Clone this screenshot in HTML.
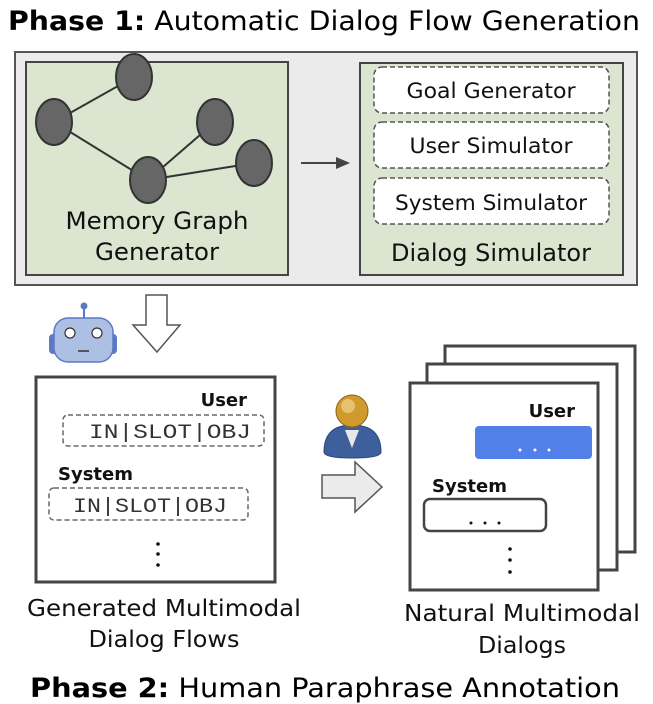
<!DOCTYPE html>
<html><head><meta charset="utf-8"><style>body{margin:0;background:#fff}svg{display:block}</style></head>
<body>
<svg width="653" height="704" viewBox="0 0 653 704" xmlns="http://www.w3.org/2000/svg" font-family="DejaVu Sans, Liberation Sans, sans-serif">
<text x="8" y="30" font-size="27" textLength="632" lengthAdjust="spacingAndGlyphs"><tspan font-weight="bold">Phase 1:</tspan> Automatic Dialog Flow Generation</text>
<rect x="15" y="52" width="622" height="233" fill="#ebebeb" stroke="#555" stroke-width="2"/>
<rect x="26" y="62" width="262" height="213" fill="#dbe5cf" stroke="#444" stroke-width="2"/>
<rect x="360" y="63" width="263" height="212" fill="#dbe5cf" stroke="#444" stroke-width="2"/>
<g stroke="#333" stroke-width="2">
<line x1="54" y1="122" x2="134" y2="77"/><line x1="54" y1="122" x2="148" y2="180"/>
<line x1="148" y1="180" x2="215" y2="122"/><line x1="148" y1="180" x2="254" y2="163"/>
<g fill="#666"><ellipse cx="134" cy="77" rx="18" ry="23"/><ellipse cx="54" cy="122" rx="18" ry="23"/><ellipse cx="215" cy="122" rx="18" ry="23"/><ellipse cx="148" cy="180" rx="18" ry="23"/><ellipse cx="254" cy="163" rx="18" ry="23"/></g>
</g>
<g font-size="24" text-anchor="middle" fill="#111">
<text x="157" y="229" textLength="183" lengthAdjust="spacingAndGlyphs">Memory Graph</text>
<text x="157" y="260" textLength="124" lengthAdjust="spacingAndGlyphs">Generator</text>
<text x="491" y="261" textLength="200" lengthAdjust="spacingAndGlyphs">Dialog Simulator</text></g>
<line x1="301" y1="163" x2="338" y2="163" stroke="#444" stroke-width="2"/><polygon points="336,157 350,163 336,169" fill="#444"/>
<g fill="#fff" stroke="#555" stroke-width="1.5" stroke-dasharray="5,3">
<rect x="374" y="67" width="235" height="46" rx="8"/><rect x="374" y="122" width="235" height="46" rx="8"/><rect x="374" y="178" width="235" height="46" rx="8"/></g>
<g font-size="21" text-anchor="middle" fill="#111">
<text x="491" y="98" textLength="169" lengthAdjust="spacingAndGlyphs">Goal Generator</text>
<text x="491" y="153" textLength="163" lengthAdjust="spacingAndGlyphs">User Simulator</text>
<text x="491" y="210" textLength="192" lengthAdjust="spacingAndGlyphs">System Simulator</text></g>
<polygon points="146,295 167,295 167,325 180,325 157,352 133,325 146,325" fill="#fff" stroke="#555" stroke-width="1.5"/>
<line x1="84" y1="307" x2="84" y2="318" stroke="#5b79c4" stroke-width="2"/><circle cx="84" cy="306" r="3.5" fill="#5b79c4"/>
<rect x="49" y="334" width="8" height="20" rx="4" fill="#5b79c4"/><rect x="109" y="334" width="8" height="20" rx="4" fill="#5b79c4"/>
<rect x="54" y="318" width="59" height="44" rx="14" fill="#aebfe4" stroke="#5b79c4" stroke-width="1.5"/>
<circle cx="70" cy="333" r="5" fill="#fff" stroke="#333" stroke-width="1.2"/><circle cx="97" cy="333" r="5" fill="#fff" stroke="#333" stroke-width="1.2"/>
<line x1="78" y1="351" x2="89" y2="351" stroke="#333" stroke-width="1.5"/>
<rect x="36" y="377" width="239" height="205" fill="#fff" stroke="#444" stroke-width="3"/>
<g font-weight="bold" font-size="18" fill="#111"><text x="247" y="406" text-anchor="end">User</text><text x="58" y="480">System</text></g>
<g fill="none" stroke="#666" stroke-width="1.5" stroke-dasharray="5,3"><rect x="63" y="415" width="201" height="31" rx="5"/><rect x="49" y="488" width="199" height="32" rx="5"/></g>
<g font-family="Liberation Mono, monospace" font-size="20" fill="#333" text-anchor="middle">
<text x="170" y="438" textLength="162" lengthAdjust="spacingAndGlyphs">IN|SLOT|OBJ</text>
<text x="150" y="512" textLength="154" lengthAdjust="spacingAndGlyphs">IN|SLOT|OBJ</text></g>
<g fill="#111"><circle cx="158" cy="544" r="1.8"/><circle cx="158" cy="554" r="1.8"/><circle cx="158" cy="565" r="1.8"/></g>
<g font-size="23" text-anchor="middle" fill="#111">
<text x="164" y="616" textLength="274" lengthAdjust="spacingAndGlyphs">Generated Multimodal</text>
<text x="164" y="647" textLength="151" lengthAdjust="spacingAndGlyphs">Dialog Flows</text>
<text x="522" y="621" textLength="236" lengthAdjust="spacingAndGlyphs">Natural Multimodal</text>
<text x="522" y="653" textLength="88" lengthAdjust="spacingAndGlyphs">Dialogs</text></g>
<rect x="445" y="346" width="190" height="206" fill="#fff" stroke="#444" stroke-width="3"/>
<rect x="427" y="364" width="190" height="206" fill="#fff" stroke="#444" stroke-width="3"/>
<rect x="410" y="383" width="188" height="207" fill="#fff" stroke="#444" stroke-width="3"/>
<g font-weight="bold" font-size="18" fill="#111"><text x="575" y="417" text-anchor="end">User</text><text x="432" y="492">System</text></g>
<rect x="475" y="426" width="117" height="33" rx="4" fill="#5280e9"/>
<g fill="#fff"><circle cx="520" cy="450" r="1.5"/><circle cx="535" cy="450" r="1.5"/><circle cx="549" cy="450" r="1.5"/></g>
<rect x="424" y="499" width="122" height="32" rx="6" fill="#fff" stroke="#444" stroke-width="2.5"/>
<g fill="#111"><circle cx="471" cy="523" r="1.5"/><circle cx="485" cy="523" r="1.5"/><circle cx="499" cy="523" r="1.5"/>
<circle cx="510" cy="549" r="1.8"/><circle cx="510" cy="560" r="1.8"/><circle cx="510" cy="572" r="1.8"/></g>
<path d="M324,452 Q324,425 352,425 Q381,425 381,452 Q381,458 352,458 Q324,458 324,452Z" fill="#3d5f9c" stroke="#2b4677"/>
<polygon points="345,430 352,448 359,430" fill="#e8e8e8"/>
<circle cx="352" cy="411" r="16" fill="#d09a2c" stroke="#8a6318"/>
<circle cx="348" cy="406" r="7" fill="#e8c071"/>
<polygon points="322,475 355,475 355,462 382,487 355,512 355,498 322,498" fill="#ebebeb" stroke="#555" stroke-width="1.5"/>
<text x="30" y="697" font-size="27" textLength="590" lengthAdjust="spacingAndGlyphs"><tspan font-weight="bold">Phase 2:</tspan> Human Paraphrase Annotation</text>
</svg>
</body></html>
